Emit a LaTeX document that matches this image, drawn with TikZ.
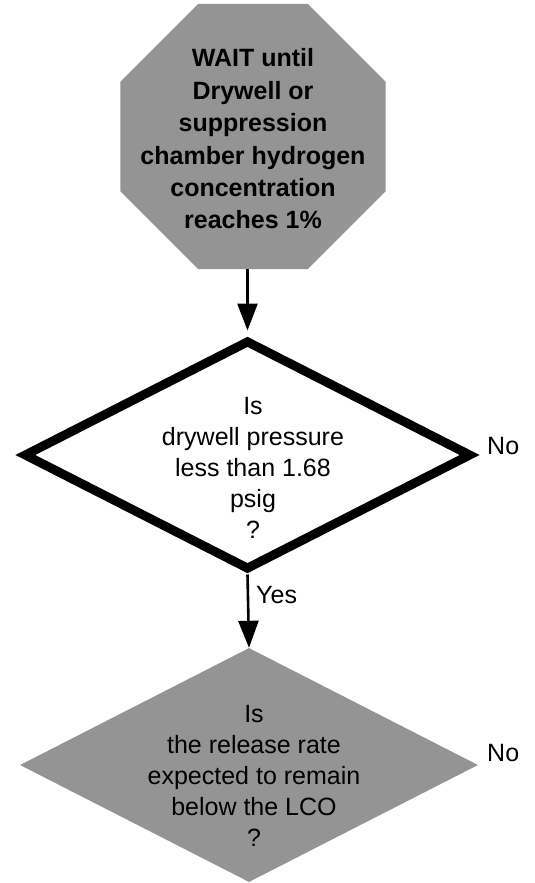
\documentclass[tikz,border=0pt]{standalone}
\usepackage{fontspec}
\setmainfont{Liberation Sans}
\usetikzlibrary{shapes.geometric,arrows.meta}

\begin{document}
\begin{tikzpicture}[x=1pt,y=-1pt,
    flow/.style={line width=2.6pt,-{Triangle[length=27pt,width=20pt]}},
    screen/.style={fill=black!42},
    txt/.style={align=center,font=\fontsize{25}{31}\selectfont}]
        \tikzstyle{every node}+=[inner sep=0pt]
        \useasboundingbox (0,0) rectangle (535,883);
        % wait point
        \node [screen,regular polygon,regular polygon sides=8,minimum size=287pt] (wait) at (253,136.5) {};
        \node [txt,font=\bfseries\fontsize{25}{32.4}\selectfont] (waittxt) at (253,139)
            {WAIT until\\Drywell or\\suppression\\chamber hydrogen\\concentration\\reaches 1\%};
        % pressure check
        \node [diamond,draw,line width=9pt,minimum width=448pt,minimum height=230pt] (press) at (247.5,455) {};
        \node [txt] (presstxt) at (253,468) {Is\\drywell pressure\\less than 1.68\\psig\\?};
        \node [txt,anchor=west] (no1) at (487,446) {No};
        \node [txt,anchor=west] (yes) at (256,595) {Yes};
        % release rate check
        \node [screen,diamond,minimum width=458pt,minimum height=234pt] (rate) at (249,765) {};
        \node [txt] (ratetxt) at (254,776)
            {Is\\the release rate\\expected to remain\\below the LCO\\?};
        \node [txt,anchor=west] (no2) at (487,753) {No};
        % connectors
        \draw [flow] (wait.south -| press.north) -- ([yshift=5pt]press.north);
        \draw [flow] (press.south) -- (rate.north);
\end{tikzpicture}
\end{document}
